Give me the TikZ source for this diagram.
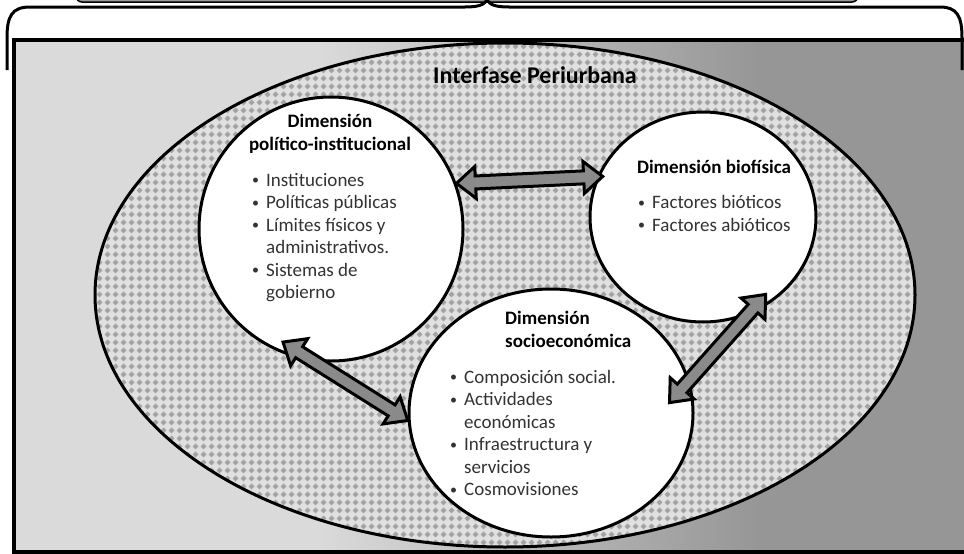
\documentclass[tikz,border=0pt]{standalone}
\usepackage{fontspec}
\setmainfont{Carlito}
\usepackage{xcolor}
\usepackage{tikz}
\usetikzlibrary{shapes.geometric,shapes.arrows,calc,patterns}
\definecolor{fieldlight}{HTML}{DADADA}
\definecolor{fielddark}{HTML}{969696}
\definecolor{zonebg}{HTML}{E0E0E0}
\definecolor{zonedot}{HTML}{A3A3A3}
\definecolor{arrowgray}{HTML}{8A8A8A}
\pgfdeclarehorizontalshading{fieldshade}{100bp}{color(0bp)=(fieldlight); color(41bp)=(fieldlight); color(64bp)=(fielddark); color(100bp)=(fielddark)}
\pgfdeclarepatternformonly{diamond grid}{\pgfqpoint{0pt}{0pt}}{\pgfqpoint{8pt}{8pt}}{\pgfqpoint{8pt}{8pt}}{%
  \pgfpathmoveto{\pgfqpoint{4pt}{0.7pt}}%
  \pgfpathlineto{\pgfqpoint{7.3pt}{4pt}}%
  \pgfpathlineto{\pgfqpoint{4pt}{7.3pt}}%
  \pgfpathlineto{\pgfqpoint{0.7pt}{4pt}}%
  \pgfpathclose
  \pgfusepath{fill}}
\newcommand\itembul{\makebox[14pt][l]{\raisebox{1.5pt}{\fontsize{14}{14}\selectfont•}}}
\newcommand\itemind{\hspace*{14pt}}
\tikzset{
  field box/.style={
    draw=black,
    line width=3.5pt,
    shade,
    shading=fieldshade,
  },
  top strip/.style={
    draw=black,
    line width=1.5pt,
    rounded corners=6pt,
    fill=black!40,
  },
  brace line/.style={line width=3pt},
  interfase zone/.style={
    ellipse,
    draw=black,
    line width=3pt,
    preaction={fill=zonebg},
    pattern=diamond grid,
    pattern color=zonedot,
    inner sep=0pt,
    minimum width=820pt,
    minimum height=504pt,
  },
  dim circle/.style={
    ellipse,
    draw=black,
    line width=3pt,
    fill=white,
    inner sep=0pt,
  },
  dim head/.style={
    font=\bfseries\fontsize{19}{22.5}\selectfont,
    inner sep=0pt,
    align=center,
    anchor=base,
  },
  dim list/.style={
    font=\fontsize{19}{22.5}\selectfont,
    text=black!80,
    inner sep=0pt,
    align=left,
    anchor=base west,
  },
  dim arrow/.style={
    double arrow,
    draw=black,
    fill=arrowgray,
    line width=3pt,
    inner sep=0pt,
    minimum width=0pt,
    text height=10pt,
    text depth=0pt,
    double arrow head extend=9.5pt,
    double arrow tip angle=80,
    anchor=center,
  },
}

\begin{document}
\begin{tikzpicture}[x=1pt,y=-1pt]
  \useasboundingbox (0,0) rectangle (964,554);
  \clip (0,0) rectangle (964,554);

  \draw[field box] (14,40) rectangle (970,552);
  \node[interfase zone] (zone) at (505,295) {};
  \node[font=\bfseries\fontsize{24}{28}\selectfont, anchor=base] (title) at (535,83) {Interfase Periurbana};

  % the three dimensions
  \node[dim circle, minimum width=264pt, minimum height=264pt] (polit) at (331,229) {};
  \node[dim circle, minimum width=226pt, minimum height=210pt] (bio) at (703,217) {};
  \node[dim circle, minimum width=284pt, minimum height=248pt] (socio) at (551,413) {};

  % text blocks, placed at the baseline of their last line
  \node[dim head] (polit head) at (330,150) {Dimensión\\político-institucional};
  \node[dim list] (polit list) at (252,298.5) {\itembul Instituciones\\\itembul Políticas públicas\\\itembul Límites físicos y\\\itemind administrativos.\\\itembul Sistemas de\\\itemind gobierno};

  \node[dim head] (bio head) at (714,173) {Dimensión biofísica};
  \node[dim list] (bio list) at (638,231) {\itembul Factores bióticos\\\itembul Factores abióticos};

  \node[dim head, align=left, anchor=base west] (socio head) at (505,347) {Dimensión\\socioeconómica};
  \node[dim list] (socio list) at (450,495.5) {\itembul Composición social.\\\itembul Actividades\\\itemind económicas\\\itembul Infraestructura y\\\itemind servicios\\\itembul Cosmovisiones};

  % arrow ends
  \coordinate (a1) at (polit.20);
  \coordinate (b1) at ($(bio.center)!0.955!(bio.158)$);
  \coordinate (a2) at ($(polit.center)!0.92!(polit.247)$);
  \coordinate (b2) at (socio.183);
  \coordinate (a3) at ($(bio.center)!0.91!(bio.309)$);
  \coordinate (b3) at ($(socio.center)!0.83!(socio.5)$);

  \path let \p1=(a1), \p2=(b1), \n1={atan2(\y2-\y1,\x2-\x1)}, \n2={veclen(\x2-\x1,\y2-\y1)} in
    node[dim arrow, minimum height=\n2, rotate=\n1] (arrow1) at ($(a1)!0.5!(b1)$) {};
  \path let \p1=(a2), \p2=(b2), \n1={atan2(\y2-\y1,\x2-\x1)}, \n2={veclen(\x2-\x1,\y2-\y1)} in
    node[dim arrow, minimum height=\n2, rotate=\n1] (arrow2) at ($(a2)!0.5!(b2)$) {};
  \path let \p1=(a3), \p2=(b3), \n1={atan2(\y2-\y1,\x2-\x1)}, \n2={veclen(\x2-\x1,\y2-\y1)} in
    node[dim arrow, minimum height=\n2, rotate=\n1] (arrow3) at ($(a3)!0.5!(b3)$) {};

  % header and brace
  \draw[top strip] (76,-30) rectangle (858,2);
  \draw[brace line] (7,70) -- (7,38) .. controls (7,16) and (12,7) .. (30,7) -- (465,7)
    .. controls (478,7) and (484,5) .. (487,0) .. controls (490,5) and (496,7) .. (509,7)
    -- (940,7) .. controls (957,7) and (962,16) .. (962,38) -- (962,70);
\end{tikzpicture}
\end{document}
